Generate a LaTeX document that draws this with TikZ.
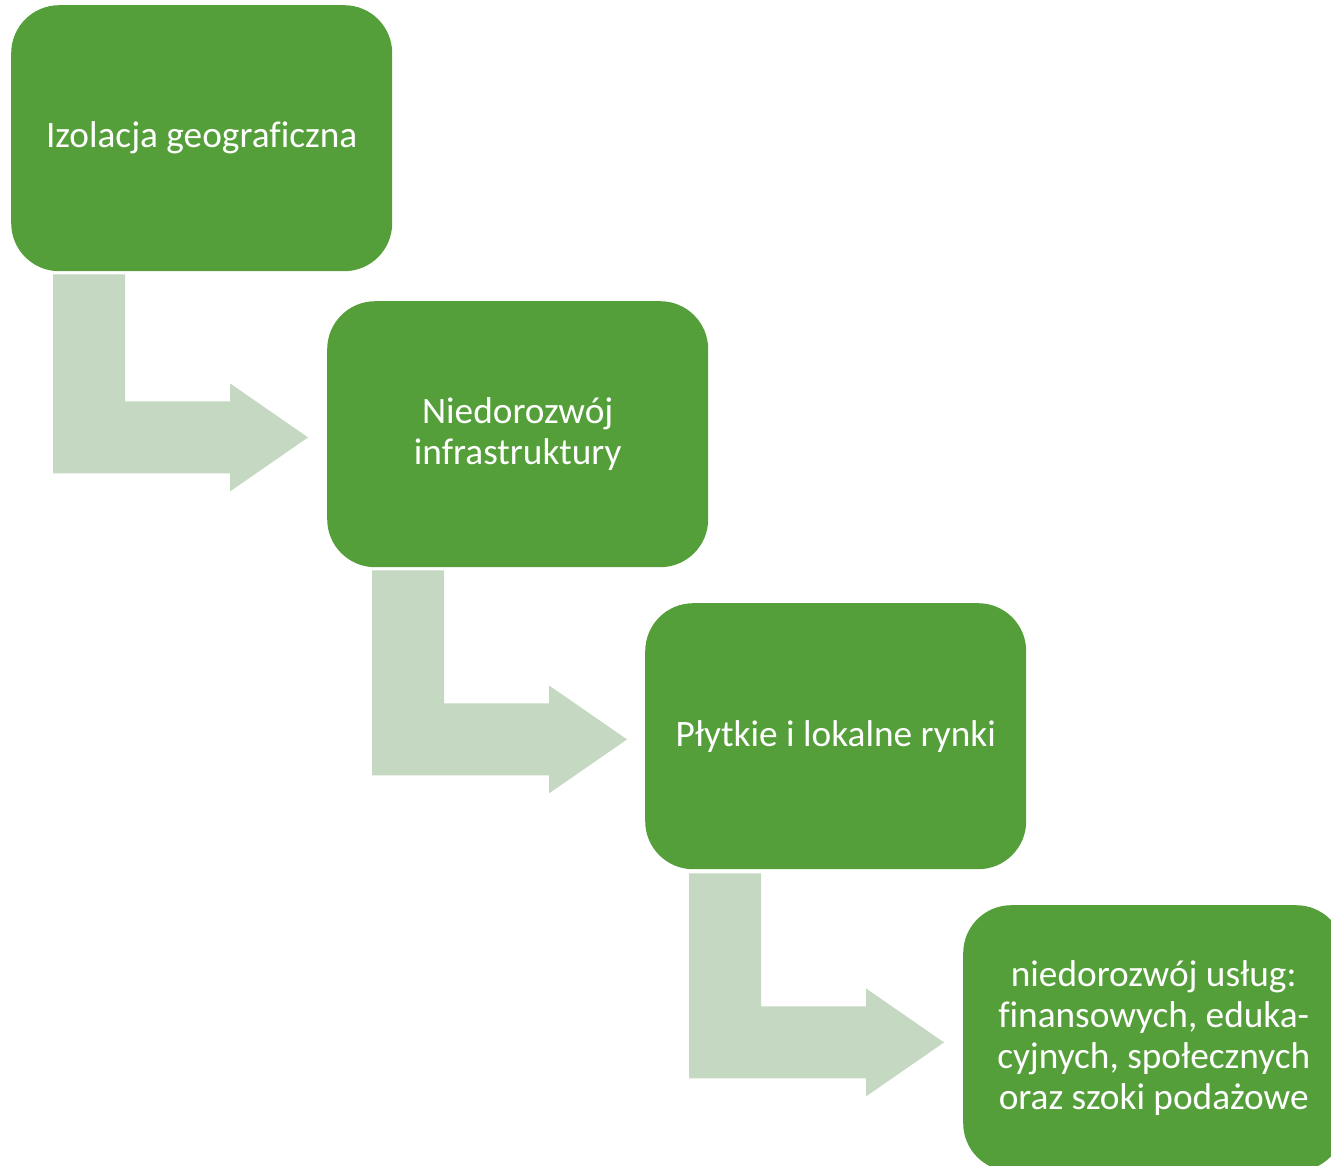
\documentclass[tikz,border=0pt]{standalone}
\usepackage{fontspec}
\setmainfont[Ligatures=NoCommon]{Carlito}
\definecolor{boxgreen}{HTML}{559F3B}
\definecolor{arrowgreen}{HTML}{C5D8C2}
\begin{document}
\begin{tikzpicture}[x=1pt,y=-1pt,
  stage/.style={fill=boxgreen, draw=none, rounded corners=48pt, minimum width=381pt, minimum height=266pt,
    text=white, font=\fontsize{37.3}{41}\selectfont, align=center, inner sep=0pt, anchor=north west},
  pics/bentarrow/.style={code={
    \fill[arrowgreen] (0,0) -- (72,0) -- (72,#1-72) -- (177,#1-72) -- (177,#1-90) -- (255,#1-36)
      -- (177,#1+18) -- (177,#1) -- (0,#1) -- cycle;}}]
\useasboundingbox (0,0) rectangle (1331,1165);
\clip (0,0) rectangle (1331,1165);
\node[stage] (s1) at (11,5) {Izolacja geograficzna};
\node[stage] (s2) at (327,301) {Niedorozwój\\infrastruktury};
\node[stage] (s3) at (645,603) {Płytkie i lokalne rynki};
\node[stage] (s4) at (963,905) {niedorozwój usług:\\finansowych, eduka-\\cyjnych, społecznych\\oraz szoki podażowe};
\coordinate (a1) at ([xshift=42pt,yshift=-3pt]s1.south west);
\coordinate (a2) at ([xshift=45pt,yshift=-3pt]s2.south west);
\coordinate (a3) at ([xshift=44pt,yshift=-4pt]s3.south west);
\pic at (a1) {bentarrow=199};
\pic at (a2) {bentarrow=205};
\pic at (a3) {bentarrow=205};
\end{tikzpicture}
\end{document}
